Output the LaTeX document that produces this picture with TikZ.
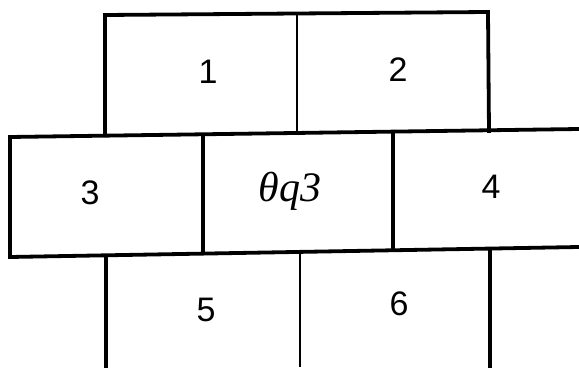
\documentclass[tikz,border=0pt]{standalone}
\usepackage{fontspec}
\setmainfont{Liberation Sans}
\newfontfamily\handfont{Liberation Serif}
\tikzset{
  wall/.style={line width=3.8pt, line cap=rect},
  thinwall/.style={line width=2.8pt, line cap=rect},
  num/.style={font=\fontsize{34}{34}\selectfont, inner sep=0pt},
  hand/.style={font=\handfont\itshape\fontsize{42}{42}\selectfont, inner sep=0pt}
}
\begin{document}
\begin{tikzpicture}[x=1pt,y=-1pt]
\useasboundingbox (0,0) rectangle (579,369);
% top row
\draw[wall] (105,134) -- (105,15) -- (488,12) -- (489,131);
\draw[thinwall] (297,13) -- (297,132);
% middle row
\draw[wall] (579,129) -- (10,137) -- (10,257) -- (579,247);
\draw[wall] (203,136) -- (203,253);
\draw[wall] (393,133) -- (393,250);
% bottom row
\draw[wall] (106,256) -- (106,366);
\draw[thinwall] (300,252) -- (300,366);
\draw[wall] (490,249) -- (490,366);
% labels
\node[num] (l1) at (208,72) {1};
\node[num] (l2) at (398,70) {2};
\node[num] (l3) at (90,193) {3};
\node[hand] (lc) at (290,191) {θq3};
\node[num] (l4) at (491,187) {4};
\node[num] (l5) at (206,310) {5};
\node[num] (l6) at (399,304) {6};
\end{tikzpicture}
\end{document}
